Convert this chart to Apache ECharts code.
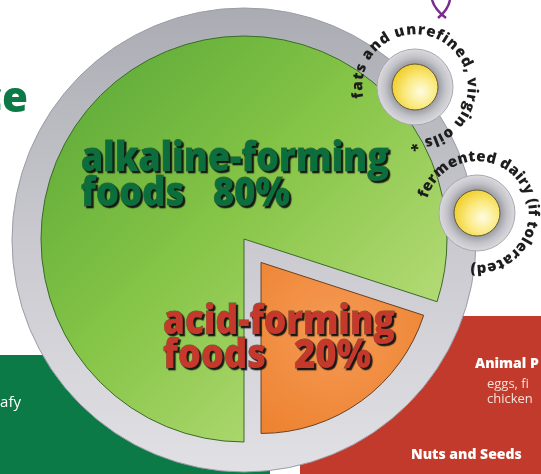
<!DOCTYPE html>
<html><head><meta charset="utf-8">
<script src="https://cdn.jsdelivr.net/npm/echarts/dist/echarts.min.js"></script>
<style>html,body{margin:0;padding:0;background:#fff}#c{width:541px;height:474px}</style>
</head><body><div id="c"></div>
<script>
// ---- data ----
const categories = ['acid-forming foods', 'alkaline-forming foods'];
const values = [20, 80];
const labelWords = [['acid-forming', 'foods'], ['alkaline-forming', 'foods']];
const ringTexts = ['fats and unrefined, virgin oils *', 'fermented dairy (if tolerated)'];
const headingFragment = 'ce';
const greenBandText = ['afy'];
const redBandTitles = ['Animal P', 'Nuts and Seeds'];
const redBandLines = ['eggs, fi', 'chicken'];

const chart = echarts.init(document.getElementById('c'), null, {renderer: 'canvas', width: 541, height: 474});
const mctx = document.createElement('canvas').getContext('2d');
function tw(text, font) { mctx.font = font; return mctx.measureText(text).width; }
const FAM = '"Open Sans", "Noto Sans", sans-serif';

const CX = 244, CY = 239;

function bigLabel(text, x, y, targetW, color) {
  const font = `800 40px ${FAM}`;
  const s = targetW / tw(text, font);
  return {type: 'text', z: 20, x, y, scaleX: s, silent: true,
    style: {text, x: 0, y: 0, fontSize: 40, fontWeight: 800, fontFamily: FAM, fill: color,
      align: 'left', verticalAlign: 'middle',
      stroke: 'rgba(20,20,20,0.55)', lineWidth: 0.8,
      textShadowColor: 'rgba(15,15,15,0.95)', textShadowOffsetX: 2, textShadowOffsetY: 2, textShadowBlur: 1,
      shadowColor: 'rgba(15,15,15,0.95)', shadowOffsetX: 2, shadowOffsetY: 2, shadowBlur: 1}};
}

function arcText(str, cx, cy, r, a0, a1) {
  const font = `800 15px ${FAM}`;
  const chars = [...str];
  const widths = chars.map(ch => tw(ch, font));
  const total = widths.reduce((a, b) => a + b, 0);
  const k = ((a0 - a1) * Math.PI / 180) / total;
  let acc = 0; const els = [];
  chars.forEach((ch, i) => {
    const mid = acc + widths[i] / 2; acc += widths[i];
    const th = a0 * Math.PI / 180 - mid * k;
    if (ch === ' ') return;
    els.push({type: 'text', z: 30, silent: true, x: cx + r * Math.cos(th), y: cy - r * Math.sin(th),
      rotation: th - Math.PI / 2,
      style: {text: ch, x: 0, y: 0, align: 'center', verticalAlign: 'middle',
        fontSize: 15, fontWeight: 800, fontFamily: FAM, fill: '#1d1d1d'}});
  });
  return els;
}

function smallDisc(cx, cy) {
  return [
    {type: 'circle', z: 25, silent: true, shape: {cx, cy, r: 38},
      style: {fill: new echarts.graphic.RadialGradient(0.5, 0.5, 0.5, [
        {offset: 0, color: '#8a8a92'}, {offset: 0.6, color: '#9c9ca4'}, {offset: 0.78, color: '#c2c2c8'}, {offset: 1, color: '#dcdce0'}]),
        stroke: '#a8a8b0', lineWidth: 1}},
    {type: 'circle', z: 26, silent: true, shape: {cx, cy, r: 23},
      style: {fill: new echarts.graphic.RadialGradient(0.62, 0.6, 0.7, [
        {offset: 0, color: '#fffbe2'}, {offset: 0.45, color: '#faeb85'}, {offset: 1, color: '#efc818'}]),
        stroke: '#5e5a3a', lineWidth: 1}}
  ];
}

const greenGrad = new echarts.graphic.LinearGradient(0, 0, 1, 1, [
  {offset: 0, color: '#56a536'}, {offset: 0.45, color: '#86c547'}, {offset: 1, color: '#c9e48c'}]);
const orangeGrad = new echarts.graphic.RadialGradient(0.45, 0.4, 0.75, [
  {offset: 0, color: '#f59a55'}, {offset: 1, color: '#ed822f'}]);

const graphics = [
  // background bands
  {type: 'rect', z: 0, silent: true, shape: {x: 0, y: 355, width: 270, height: 119}, style: {fill: '#0b7a46'}},
  {type: 'rect', z: 0, silent: true, shape: {x: 300, y: 316, width: 241, height: 158}, style: {fill: '#c13a2b'}},
  {type: 'text', z: 1, silent: true, style: {text: headingFragment, x: 28, y: 100, align: 'right', verticalAlign: 'middle',
    fontSize: 42, fontWeight: 800, fontFamily: FAM, fill: '#0b7a46'}},
  {type: 'text', z: 1, silent: true, style: {text: greenBandText[0], x: 21, y: 403, align: 'right', verticalAlign: 'middle',
    fontSize: 15, fontFamily: FAM, fill: '#ffffff'}},
  {type: 'text', z: 1, silent: true, style: {text: redBandTitles[0], x: 475, y: 364, align: 'left', verticalAlign: 'middle',
    fontSize: 14, fontWeight: 800, fontFamily: FAM, fill: '#ffffff'}},
  {type: 'text', z: 1, silent: true, style: {text: redBandLines[0], x: 487, y: 384, align: 'left', verticalAlign: 'middle',
    fontSize: 13, fontFamily: FAM, fill: '#f6e2da'}},
  {type: 'text', z: 1, silent: true, style: {text: redBandLines[1], x: 487, y: 399, align: 'left', verticalAlign: 'middle',
    fontSize: 13, fontFamily: FAM, fill: '#f6e2da'}},
  {type: 'text', z: 1, silent: true, style: {text: redBandTitles[1], x: 411, y: 455, align: 'left', verticalAlign: 'middle',
    fontSize: 14, fontWeight: 800, fontFamily: FAM, fill: '#ffffff'}},
  // purple ribbon fragment
  {type: 'bezierCurve', z: 1, silent: true, shape: {x1: 432, y1: 0, x2: 446, y2: 18, cpx1: 435, cpy1: 10}, style: {stroke: '#7b2a8e', lineWidth: 2.5, fill: null}},
  {type: 'bezierCurve', z: 1, silent: true, shape: {x1: 450, y1: 0, x2: 438, y2: 18, cpx1: 448, cpy1: 10}, style: {stroke: '#7b2a8e', lineWidth: 2.5, fill: null}},
  // gray disc
  {type: 'circle', z: 1, silent: true, shape: {cx: CX, cy: CY + 1, r: 232},
    style: {fill: new echarts.graphic.LinearGradient(0, 0, 0, 1, [
      {offset: 0, color: '#abacb3'}, {offset: 0.5, color: '#c9c9cf'}, {offset: 1, color: '#e0e0e5'}]),
      stroke: '#9b9ca6', lineWidth: 1}},
  // main labels
  bigLabel(labelWords[1][0], 81, 160, 308, '#0c6e3c'),
  bigLabel(`${labelWords[1][1]}   ${values[1]}%`, 81, 195, 209, '#0c6e3c'),
  bigLabel(labelWords[0][0], 163, 323, 232, '#c5392c'),
  bigLabel(`${labelWords[0][1]}   ${values[0]}%`, 163, 357, 208, '#c5392c'),
  ...smallDisc(415, 87),
  ...smallDisc(477, 213),
  ...arcText(ringTexts[0], 415, 87, 57, 192, -95),
  ...arcText(ringTexts[1], 477, 213, 56, 164, -97)
];

const option = {
  animation: false,
  graphic: {elements: graphics},
  series: [
    {type: 'pie', z: 2, silent: true, center: [CX, CY], radius: [0, 203], startAngle: -18, clockwise: true,
      label: {show: false}, labelLine: {show: false}, emphasis: {disabled: true},
      data: categories.map((n, i) => ({name: n, value: values[i],
        itemStyle: i === 1 ? {color: greenGrad, borderColor: '#3c6a2a', borderWidth: 1} : {color: 'rgba(0,0,0,0)', borderWidth: 0}}))},
    {type: 'pie', z: 3, silent: true, center: [CX, CY], radius: [0, 171], startAngle: -18, clockwise: true,
      selectedMode: 'single', selectedOffset: 29,
      label: {show: false}, labelLine: {show: false}, emphasis: {disabled: true},
      data: categories.map((n, i) => ({name: n, value: values[i], selected: i === 0,
        itemStyle: i === 0 ? {color: orangeGrad, borderColor: '#6b4020', borderWidth: 1} : {color: 'rgba(0,0,0,0)', borderWidth: 0}}))}
  ]
};
chart.setOption(option);
</script>
</body></html>
